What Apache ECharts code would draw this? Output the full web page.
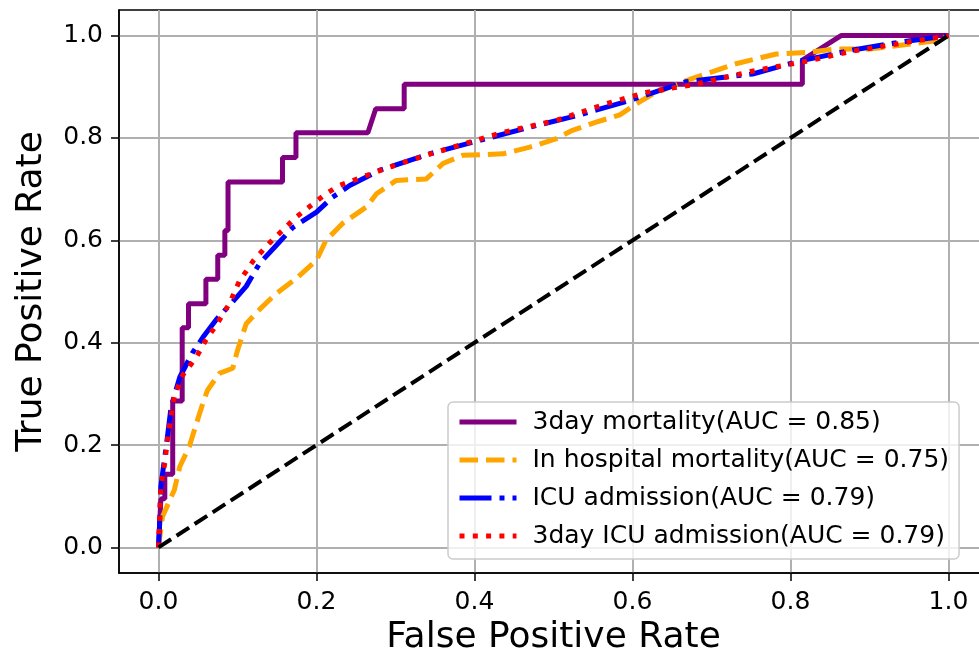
<!DOCTYPE html>
<html>
<head>
<meta charset="utf-8">
<script src="https://cdn.jsdelivr.net/npm/echarts@6/dist/echarts.min.js"></script>
<style>html,body{margin:0;padding:0;background:#fff;}#c{width:979px;height:661px;}</style>
</head>
<body>
<div id="c"></div>
<script>
const tickValues = [0, 0.2, 0.4, 0.6, 0.8, 1.0];
const seriesNames = ['3day mortality(AUC = 0.85)', 'In hospital mortality(AUC = 0.75)', 'ICU admission(AUC = 0.79)', '3day ICU admission(AUC = 0.79)'];
const mortality3day = [[0,0],[0.003,0.095],[0.008,0.095],[0.008,0.143],[0.018,0.143],[0.018,0.286],[0.03,0.286],[0.03,0.429],[0.038,0.429],[0.038,0.476],[0.06,0.476],[0.06,0.524],[0.075,0.524],[0.075,0.571],[0.084,0.571],[0.084,0.619],[0.088,0.619],[0.088,0.714],[0.157,0.714],[0.157,0.762],[0.174,0.762],[0.174,0.81],[0.265,0.81],[0.275,0.857],[0.311,0.857],[0.311,0.905],[0.815,0.905],[0.815,0.952],[0.864,1.0],[1,1]];
const hospitalMortality = [[0,0],[0.005,0.06],[0.02,0.112],[0.027,0.158],[0.039,0.197],[0.048,0.242],[0.056,0.281],[0.062,0.307],[0.077,0.34],[0.094,0.35],[0.1,0.385],[0.111,0.437],[0.128,0.465],[0.149,0.496],[0.174,0.525],[0.2,0.561],[0.212,0.6],[0.233,0.633],[0.263,0.665],[0.276,0.691],[0.301,0.717],[0.339,0.72],[0.36,0.75],[0.385,0.766],[0.436,0.769],[0.47,0.782],[0.503,0.798],[0.524,0.815],[0.554,0.831],[0.584,0.845],[0.605,0.867],[0.626,0.886],[0.668,0.912],[0.731,0.945],[0.782,0.964],[0.82,0.967],[0.858,0.974],[0.9,0.974],[0.934,0.98],[0.984,0.99],[1,1]];
const icuAdmission = [[0,0],[0.001,0.03],[0.003,0.12],[0.01,0.2],[0.016,0.275],[0.027,0.333],[0.043,0.38],[0.056,0.41],[0.073,0.445],[0.094,0.48],[0.111,0.51],[0.128,0.555],[0.149,0.59],[0.17,0.625],[0.2,0.655],[0.22,0.684],[0.242,0.707],[0.28,0.737],[0.343,0.769],[0.406,0.795],[0.47,0.821],[0.533,0.845],[0.596,0.873],[0.668,0.91],[0.752,0.925],[0.811,0.95],[0.879,0.972],[0.942,0.988],[1,1]];
const icuAdmission3day = [[0,0],[0.001,0.04],[0.003,0.12],[0.008,0.165],[0.012,0.22],[0.02,0.295],[0.03,0.335],[0.048,0.372],[0.06,0.405],[0.073,0.434],[0.09,0.477],[0.102,0.519],[0.12,0.56],[0.14,0.594],[0.174,0.645],[0.212,0.691],[0.229,0.707],[0.292,0.743],[0.351,0.772],[0.436,0.811],[0.503,0.834],[0.567,0.867],[0.617,0.889],[0.68,0.905],[0.75,0.93],[0.82,0.95],[0.88,0.97],[0.94,0.985],[1,1]];
const chanceLine = [[0,0],[1,1]];

const FONT = 'DejaVu Sans';
const chart = echarts.init(document.getElementById('c'), null, {renderer: 'canvas'});

function axisCommon(name, isX) {
  return {
    type: 'value',
    min: -0.05, max: 1.05,
    name: name,
    nameLocation: 'middle',
    nameGap: isX ? 47 : 69,
    nameTextStyle: {fontFamily: FONT, fontSize: 36, color: '#000'},
    axisLine: {show: true, onZero: false, lineStyle: {color: '#000', width: 1.5}},
    axisTick: {show: true, inside: false, length: 8, customValues: tickValues, lineStyle: {color: '#000', width: 1.5}},
    axisLabel: {show: true, customValues: tickValues, margin: isX ? 17 : 16, fontFamily: FONT, fontSize: 25, color: '#000',
      formatter: v => v.toFixed(1)},
    splitLine: {show: true, lineStyle: {color: '#b0b0b0', width: 2}}
  };
}

const lw = 5;
chart.setOption({
  animation: false,
  backgroundColor: '#fff',
  grid: {left: 119, top: 10, width: 869, height: 563, outerBoundsMode: 'none', containLabel: false,
    show: true, borderColor: '#000', borderWidth: 1.5, backgroundColor: 'transparent'},
  xAxis: axisCommon('False Positive Rate', true),
  yAxis: axisCommon('True Positive Rate', false),
  legend: {
    orient: 'vertical',
    left: 448, top: 402,
    data: seriesNames,
    itemWidth: 57, itemHeight: 14, itemGap: 10,
    padding: [6, 10, 9, 9],
    backgroundColor: 'rgba(255,255,255,0.8)',
    borderColor: '#cccccc', borderWidth: 1.5, borderRadius: 5,
    itemStyle: {opacity: 0},
    lineStyle: {width: lw},
    textStyle: {fontFamily: FONT, fontSize: 25, color: '#000', lineHeight: 28, padding: [0, 0, 0, 11]},
    selectedMode: false
  },
  series: [
    {name: seriesNames[0], type: 'line', data: mortality3day, showSymbol: false, symbol: 'none', z: 2,
      lineStyle: {color: '#800080', width: lw, type: 'solid'}, itemStyle: {color: '#800080'}},
    {name: seriesNames[1], type: 'line', data: hospitalMortality, showSymbol: false, symbol: 'none', z: 3,
      lineStyle: {color: '#FFA500', width: lw, type: [18.5, 8], cap: 'butt'}, itemStyle: {color: '#FFA500'}},
    {name: seriesNames[2], type: 'line', data: icuAdmission, showSymbol: false, symbol: 'none', z: 4,
      lineStyle: {color: '#0000FF', width: lw, type: [32, 8, 5, 8], cap: 'butt'}, itemStyle: {color: '#0000FF'}},
    {name: seriesNames[3], type: 'line', data: icuAdmission3day, showSymbol: false, symbol: 'none', z: 5,
      lineStyle: {color: '#FF0000', width: lw, type: [5, 8.3], cap: 'butt'}, itemStyle: {color: '#FF0000'}},
    {name: 'chance', type: 'line', data: chanceLine, showSymbol: false, symbol: 'none', z: 6,
      lineStyle: {color: '#000', width: 4, type: [15, 6.5], cap: 'butt'}, itemStyle: {color: '#000'}}
  ]
});
</script>
</body>
</html>
